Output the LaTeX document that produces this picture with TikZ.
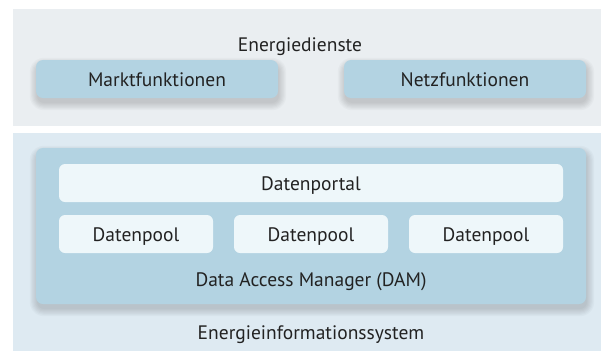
\documentclass[tikz,border=0pt]{standalone}
\usepackage{fontspec}
\setmainfont{PT Sans}
\definecolor{paneltop}{HTML}{EAEEF1}
\definecolor{panelbot}{HTML}{DEEAF2}
\definecolor{boxblue}{HTML}{B3D3E2}
\definecolor{innerbox}{HTML}{EEF7FA}
\definecolor{txt}{HTML}{222222}
\tikzset{
  bluebox/.style={fill=boxblue, rounded corners=7pt, draw=none},
  shadowlayer/.style={fill=black, fill opacity=0.025, draw=none},
  inbox/.style={fill=innerbox, rounded corners=6pt, draw=none},
  lbl/.style={text=txt, font=\fontsize{19.5}{22}\selectfont, inner sep=0pt, anchor=base},
}
\newcommand{\softshadow}[4]{%
  \foreach \k in {0,1.2,...,7.2}{%
    \path[shadowlayer, rounded corners={7pt+\k pt}]
      ({#1-\k+1},{#2-\k+5}) rectangle ({#3+\k+1},{#4+\k+5});
  }}
\begin{document}
\begin{tikzpicture}[x=1pt,y=-1pt]
\useasboundingbox (0,0) rectangle (601,351);
\fill[paneltop] (13,9) rectangle (601,126);
\fill[panelbot] (13,133) rectangle (601,351);
\node[lbl] (ed) at (300,51) {Energiedienste};
\softshadow{36}{60}{278}{98}
\path[bluebox] (36,60) rectangle (278,98);
\node[lbl] (mf) at (157,86) {Marktfunktionen};
\softshadow{344}{60}{586}{98}
\path[bluebox] (344,60) rectangle (586,98);
\node[lbl] (nf) at (465,86) {Netzfunktionen};
\softshadow{36}{148}{586}{304}
\path[bluebox] (36,148) rectangle (586,304);
\path[inbox] (59,164) rectangle (563,202);
\node[lbl] (dp) at (311,190) {Datenportal};
\path[inbox] (59,215) rectangle (213,253);
\node[lbl] (p1) at (136,241) {Datenpool};
\path[inbox] (234,215) rectangle (388,253);
\node[lbl] (p2) at (311,241) {Datenpool};
\path[inbox] (409,215) rectangle (563,253);
\node[lbl] (p3) at (486,241) {Datenpool};
\node[lbl] (dam) at (311,286) {Data Access Manager (DAM)};
\node[lbl] (eis) at (311,339) {Energieinformationssystem};
\end{tikzpicture}
\end{document}
